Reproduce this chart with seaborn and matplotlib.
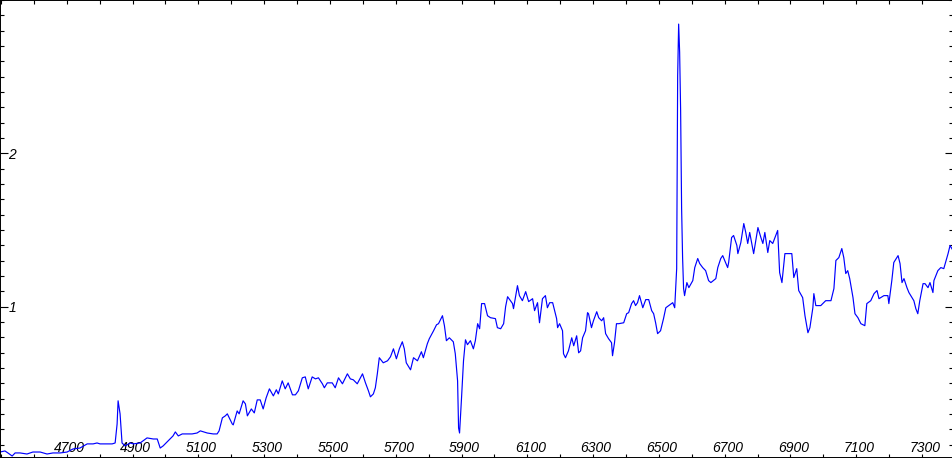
import matplotlib
matplotlib.use("Agg")
import matplotlib.pyplot as plt
import matplotlib.transforms as mtransforms
from matplotlib.ticker import MultipleLocator
import seaborn as sns

# spectrum (wavelength in Angstrom, relative flux)
wavelength = [
    4497, 4512, 4521, 4534, 4543, 4558, 4579, 4597, 4619, 4640, 4658, 4680,
    4701, 4719, 4740, 4762, 4780, 4792, 4801, 4823, 4838, 4847, 4853, 4856,
    4862, 4868, 4877, 4893, 4902, 4923, 4944, 4963, 4975, 4984, 4993, 5008,
    5023, 5030, 5039, 5051, 5066, 5081, 5096, 5106, 5127, 5145, 5157,
    5163, 5173, 5182, 5188, 5194, 5203, 5206, 5218, 5224, 5236, 5243, 5249,
    5261, 5270, 5279, 5288, 5297, 5306, 5316, 5328, 5337, 5343, 5355, 5364,
    5373, 5386, 5395, 5404, 5416, 5425, 5434, 5446, 5456, 5465, 5477, 5483,
    5492, 5507, 5516, 5526, 5538, 5553, 5562, 5571, 5583, 5599, 5608, 5617,
    5623, 5632, 5638, 5644, 5650, 5662, 5675, 5684, 5693, 5702, 5711,
    5720, 5726, 5732, 5745, 5754, 5766, 5778, 5784, 5796, 5802, 5815, 5824,
    5830, 5842, 5848, 5854, 5863, 5875, 5881, 5888, 5891, 5894, 5900, 5906,
    5912, 5918, 5927, 5936, 5942, 5949, 5955, 5961, 5970, 5979, 5988, 6003,
    6009, 6019, 6028, 6034, 6040, 6055, 6058, 6070, 6076, 6085, 6095, 6104,
    6116, 6122, 6131, 6137, 6146, 6155, 6161, 6168, 6177, 6183, 6189, 6192,
    6198, 6207, 6210, 6216, 6225, 6235, 6241, 6250, 6256, 6262, 6268, 6277,
    6283, 6286, 6295, 6301, 6311, 6317, 6326, 6332, 6338, 6347, 6356, 6359,
    6365, 6371, 6378, 6393, 6402, 6408, 6417, 6423, 6429, 6435, 6441, 6451,
    6460, 6469, 6478, 6484, 6490, 6496, 6505, 6514, 6521, 6530, 6542, 6548,
    6554, 6557, 6560, 6563, 6566, 6569, 6572, 6575, 6578, 6585, 6591, 6603,
    6609, 6618, 6624, 6633, 6642, 6651, 6658, 6673, 6679, 6688, 6694, 6700,
    6709, 6712, 6721, 6727, 6737, 6740, 6749, 6758, 6764, 6770, 6776, 6788,
    6801, 6810, 6816, 6822, 6831, 6837, 6846, 6855, 6861, 6867, 6874, 6883,
    6895, 6904, 6910, 6919, 6925, 6937, 6944, 6953, 6959, 6968, 6971, 6977,
    6992, 7007, 7023, 7032, 7038, 7047, 7056, 7062, 7068, 7074, 7080, 7090,
    7096, 7105, 7114, 7126, 7132, 7144, 7154, 7163, 7169, 7184, 7196, 7199,
    7208, 7214, 7227, 7233, 7239, 7245, 7254, 7260, 7275, 7281, 7287, 7293,
    7303, 7309, 7318, 7324, 7333, 7336, 7348, 7357, 7366, 7373, 7379, 7385,
    7394,
]
flux = [
    0.052, 0.059, 0.046, 0.026, 0.046, 0.046, 0.039, 0.052, 0.052, 0.039, 0.046, 0.046,
    0.052, 0.072, 0.078, 0.105, 0.105, 0.111, 0.105, 0.105, 0.105, 0.111, 0.235, 0.386,
    0.301, 0.111, 0.092, 0.111, 0.105, 0.111, 0.144, 0.137, 0.137, 0.078, 0.092, 0.124,
    0.157, 0.183, 0.157, 0.170, 0.170, 0.170, 0.176, 0.190, 0.176, 0.170, 0.170,
    0.190, 0.275, 0.288, 0.301, 0.275, 0.235, 0.229, 0.320, 0.301, 0.386, 0.366, 0.288,
    0.333, 0.307, 0.392, 0.392, 0.333, 0.405, 0.464, 0.418, 0.458, 0.431, 0.516, 0.464,
    0.503, 0.425, 0.425, 0.451, 0.536, 0.542, 0.464, 0.542, 0.529, 0.536, 0.497, 0.471,
    0.503, 0.503, 0.471, 0.536, 0.497, 0.562, 0.529, 0.523, 0.497, 0.562, 0.503, 0.451,
    0.412, 0.431, 0.471, 0.562, 0.667, 0.634, 0.647, 0.673, 0.725, 0.660, 0.725,
    0.771, 0.725, 0.634, 0.588, 0.667, 0.647, 0.706, 0.667, 0.758, 0.791, 0.843, 0.882,
    0.889, 0.941, 0.876, 0.778, 0.797, 0.771, 0.693, 0.516, 0.209, 0.176, 0.405, 0.647,
    0.784, 0.752, 0.778, 0.725, 0.778, 0.889, 0.856, 1.020, 1.020, 0.941, 0.928, 0.922,
    0.863, 0.856, 0.889, 1.000, 1.065, 1.020, 0.987, 1.137, 1.072, 1.039, 1.098, 1.033,
    1.052, 0.974, 1.026, 0.895, 1.052, 1.072, 0.993, 1.026, 1.026, 0.974, 0.922, 0.863,
    0.889, 0.843, 0.693, 0.667, 0.712, 0.797, 0.745, 0.810, 0.699, 0.712, 0.797, 0.843,
    0.961, 0.954, 0.863, 0.908, 0.967, 0.928, 0.908, 0.928, 0.824, 0.791, 0.765, 0.680,
    0.765, 0.889, 0.889, 0.895, 0.954, 0.961, 1.020, 1.039, 1.007, 1.026, 1.072, 0.993,
    1.046, 1.046, 0.974, 0.954, 0.895, 0.824, 0.843, 0.922, 0.993, 1.007, 1.026, 0.993,
    1.248, 2.503, 2.843, 2.660, 2.281, 1.641, 1.320, 1.118, 1.072, 1.157, 1.124, 1.170,
    1.255, 1.314, 1.281, 1.255, 1.235, 1.170, 1.157, 1.183, 1.255, 1.314, 1.333, 1.301,
    1.255, 1.288, 1.451, 1.464, 1.399, 1.346, 1.418, 1.542, 1.484, 1.412, 1.484, 1.346,
    1.516, 1.451, 1.412, 1.484, 1.353, 1.431, 1.412, 1.464, 1.497, 1.222, 1.157, 1.346,
    1.346, 1.346, 1.190, 1.248, 1.105, 1.059, 0.941, 0.830, 0.863, 0.993, 1.085, 1.007,
    1.007, 1.039, 1.039, 1.118, 1.301, 1.320, 1.379, 1.320, 1.216, 1.235, 1.183, 1.059,
    0.954, 0.928, 0.889, 0.876, 1.020, 1.039, 1.085, 1.105, 1.052, 1.072, 1.072, 1.020,
    1.170, 1.288, 1.333, 1.281, 1.157, 1.183, 1.124, 1.092, 1.039, 0.987, 0.954, 1.039,
    1.150, 1.150, 1.124, 1.157, 1.092, 1.170, 1.235, 1.255, 1.248, 1.301, 1.346, 1.399,
    1.366,
]

x_labels = list(range(4700, 7400, 200))
y_labels = [1, 2]

sns.set_theme(style="white")
plt.rcParams['font.family'] = ['Liberation Sans', 'DejaVu Sans']

fig = plt.figure(figsize=(9.53, 4.58), dpi=100)
ax = fig.add_axes([0, 0, 1, 1])

sns.lineplot(x=wavelength, y=flux, ax=ax, color='#0000ff', linewidth=0.85,
             sort=False, estimator=None)

ax.set_xlim(4497, 7394)
ax.set_ylim(0.013, 3.0)

ax.set_xticks(x_labels)
ax.set_xticklabels([str(v) for v in x_labels])
ax.xaxis.set_minor_locator(MultipleLocator(100))
ax.set_yticks(y_labels)
ax.set_yticklabels([str(v) for v in y_labels])
ax.yaxis.set_minor_locator(MultipleLocator(0.1))

for side in ['left', 'right', 'top', 'bottom']:
    ax.spines[side].set_visible(True)
    ax.spines[side].set_color('black')
    ax.spines[side].set_linewidth(1.4)

ax.tick_params(axis='x', which='both', direction='in', top=True, bottom=True,
               length=3, width=0.8, color='black', pad=-12.5, labelsize=10,
               labelcolor='black')
ax.tick_params(axis='y', which='major', direction='in', left=True, right=True,
               length=5.5, width=0.8, color='black', pad=-11.5, labelsize=10,
               labelcolor='black')
ax.tick_params(axis='y', which='minor', direction='in', left=True, right=True,
               length=3, width=0.8, color='black')

shift = mtransforms.ScaledTranslation(3 / 100, 0, fig.dpi_scale_trans)
for lab in ax.get_xticklabels():
    lab.set_style('italic')
    lab.set_transform(lab.get_transform() + shift)
for lab in ax.get_yticklabels():
    lab.set_style('italic')

ax.set_xlabel('')
ax.set_ylabel('')
ax.grid(False)

fig.savefig('out.png', dpi=100, facecolor='white')
